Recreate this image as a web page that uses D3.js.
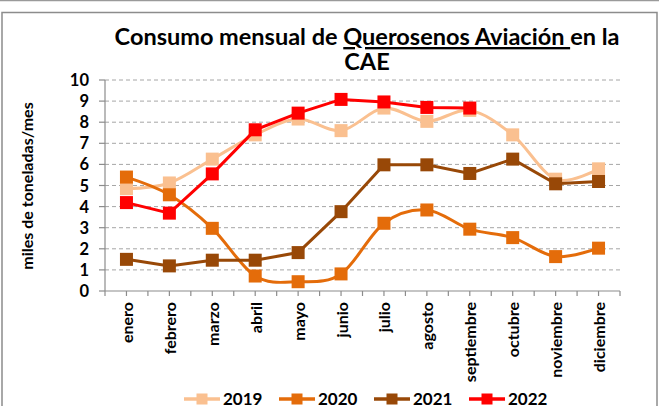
<!DOCTYPE html>
<html>
<head>
<meta charset="utf-8">
<script src="https://cdn.jsdelivr.net/npm/d3@7"></script>
<style>
  body { margin: 0; background: #fff; }
  svg { display: block; font-family: Lato, "Open Sans", sans-serif; }
</style>
</head>
<body>
<div id="chart"></div>
<script>
let months = ['enero','febrero','marzo','abril','mayo','junio','julio','agosto','septiembre','octubre','noviembre','diciembre']
let yTicks = [0,1,2,3,4,5,6,7,8,9,10]

let v2019 = [4.85, 5.12, 6.25, 7.4, 8.15, 7.6, 8.67, 8.04, 8.56, 7.4, 5.3, 5.79]
let v2020 = [5.4, 4.56, 2.97, 0.71, 0.44, 0.81, 3.21, 3.84, 2.93, 2.53, 1.63, 2.03]
let v2021 = [1.5, 1.19, 1.46, 1.46, 1.82, 3.76, 5.98, 5.98, 5.57, 6.25, 5.08, 5.19]
let v2022 = [4.19, 3.69, 5.55, 7.64, 8.43, 9.08, 8.96, 8.7, 8.67, null, null, null]

let series = [
  {name: '2019', values: v2019, color: '#FAC090', smooth: true},
  {name: '2020', values: v2020, color: '#E46C0A', smooth: true},
  {name: '2021', values: v2021, color: '#984807', smooth: false},
  {name: '2022', values: v2022, color: '#FF0000', smooth: false}
]

var width = 659
var height = 406
var plot = {left: 105, right: 620, top: 80, bottom: 291}

var svg = d3.select('#chart').append('svg')
  .attr('width', width)
  .attr('height', height)

// frame around the chart
svg.append('rect')
  .attr('width', width).attr('height', height)
  .attr('fill', '#fff')
svg.append('line')
  .attr('x1', 0).attr('x2', width).attr('y1', 0.5).attr('y2', 0.5)
  .attr('stroke', '#9a9a9a').attr('stroke-width', 1.5)
svg.append('rect')
  .attr('x', 2).attr('y', 12.5)
  .attr('width', 655).attr('height', 420)
  .attr('fill', 'none')
  .attr('stroke', '#8c8c8c').attr('stroke-width', 1.5)

var x = d3.scaleBand().domain(months).range([plot.left, plot.right])
var y = d3.scaleLinear().domain([0, 10]).range([plot.bottom, plot.top])
var cx = m => x(m) + x.bandwidth() / 2

// title
let title = svg.append('text')
  .attr('x', 367).attr('y', 45)
  .attr('text-anchor', 'middle')
  .style('font-size', '23.5px').style('font-weight', 'bold').attr('fill', '#000')
title.append('tspan').text('Consumo mensual de ')
title.append('tspan').text('Querosenos Aviación\u00a0').style('text-decoration', 'underline')
title.append('tspan').text('en la')
svg.append('text')
  .attr('x', 367).attr('y', 70)
  .attr('text-anchor', 'middle')
  .style('font-size', '23.5px').style('font-weight', 'bold')
  .text('CAE')

// gridlines
svg.append('g').selectAll('line').data(yTicks.filter(d => d > 0)).enter().append('line')
  .attr('x1', plot.left).attr('x2', plot.right)
  .attr('y1', d => y(d)).attr('y2', d => y(d))
  .attr('stroke', '#a6a6a6').attr('stroke-width', 1)
  .attr('stroke-dasharray', '4,3')

// y axis
svg.append('line')
  .attr('x1', plot.left).attr('x2', plot.left)
  .attr('y1', plot.top).attr('y2', plot.bottom)
  .attr('stroke', '#8c8c8c').attr('stroke-width', 1.2)
svg.append('g').selectAll('line').data(yTicks).enter().append('line')
  .attr('x1', plot.left - 6).attr('x2', plot.left)
  .attr('y1', d => y(d)).attr('y2', d => y(d))
  .attr('stroke', '#8c8c8c').attr('stroke-width', 1.2)
svg.append('g').selectAll('text').data(yTicks).enter().append('text')
  .attr('x', 89).attr('y', d => y(d) + 6)
  .attr('text-anchor', 'end')
  .style('font-size', '16.5px').style('font-weight', 'bold')
  .text(d => d)

svg.append('text')
  .attr('transform', 'translate(33,186) rotate(-90)')
  .attr('text-anchor', 'middle')
  .style('font-size', '16px').style('font-weight', 'bold')
  .text('miles de toneladas/mes')

// x axis
svg.append('line')
  .attr('x1', plot.left).attr('x2', plot.right)
  .attr('y1', plot.bottom).attr('y2', plot.bottom)
  .attr('stroke', '#8c8c8c').attr('stroke-width', 1.2)
let xTickPos = []
months.forEach(m => { xTickPos.push(x(m)); xTickPos.push(cx(m)) })
xTickPos.push(plot.right)
svg.append('g').selectAll('line').data(xTickPos).enter().append('line')
  .attr('x1', d => d).attr('x2', d => d)
  .attr('y1', plot.bottom).attr('y2', plot.bottom + 5)
  .attr('stroke', '#8c8c8c').attr('stroke-width', 1.2)
svg.append('g').selectAll('text').data(months).enter().append('text')
  .attr('transform', d => `translate(${cx(d) + 6.5},302) rotate(-90)`)
  .attr('text-anchor', 'end')
  .style('font-size', '16px').style('font-weight', 'bold')
  .text(d => d)

// series
series.forEach(s => {
  let pts = months.map((m, i) => ({m: m, v: s.values[i]})).filter(d => d.v != null)
  let line = d3.line()
    .x(d => cx(d.m)).y(d => y(d.v))
    .curve(s.smooth ? d3.curveCardinal.tension(0) : d3.curveLinear)
  svg.append('path')
    .datum(pts)
    .attr('d', line)
    .attr('fill', 'none')
    .attr('stroke', s.color).attr('stroke-width', 3)
  svg.append('g').selectAll('rect').data(pts).enter().append('rect')
    .attr('x', d => cx(d.m) - 6.5).attr('y', d => y(d.v) - 6.5)
    .attr('width', 13).attr('height', 13)
    .attr('fill', s.color)
})

// legend
let legend = svg.append('g')
series.forEach((s, i) => {
  let lx = 184 + i * 95
  let ly = 399
  legend.append('line')
    .attr('x1', lx).attr('x2', lx + 36).attr('y1', ly).attr('y2', ly)
    .attr('stroke', s.color).attr('stroke-width', 3.5)
  legend.append('rect')
    .attr('x', lx + 18 - 5.5).attr('y', ly - 5.5)
    .attr('width', 11).attr('height', 11)
    .attr('fill', s.color)
  legend.append('text')
    .attr('x', lx + 39).attr('y', ly + 6)
    .style('font-size', '17px').style('font-weight', 'bold')
    .text(s.name)
})
</script>
</body>
</html>
